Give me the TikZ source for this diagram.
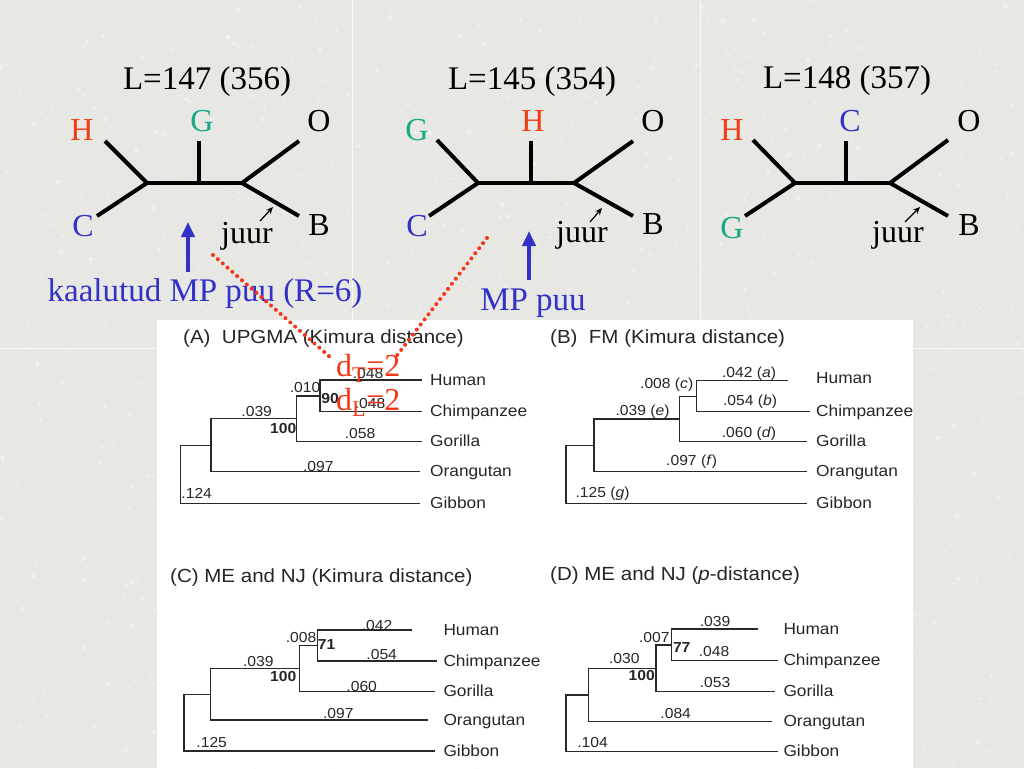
\documentclass[tikz,border=0pt]{standalone}
\usepackage{fontspec}
\setmainfont{Liberation Serif}
\newfontfamily\arial[FakeStretch=1.08]{Liberation Sans}
\usetikzlibrary{arrows.meta}
\definecolor{bg}{RGB}{231,231,228}
\definecolor{hred}{RGB}{240,60,20}
\definecolor{ggreen}{RGB}{20,170,130}
\definecolor{cblue}{RGB}{50,50,200}
\definecolor{dred}{RGB}{245,55,25}
\definecolor{pline}{RGB}{40,40,40}
\begin{document}
\begin{tikzpicture}[x=1pt,y=-1pt,
  big/.style={font=\fontsize{33}{36}\selectfont, inner sep=0pt, anchor=base},
  lbl/.style={font=\fontsize{32}{36}\selectfont, inner sep=0pt, anchor=base},
  tb/.style={line width=4pt, line join=round},
  barrow/.style={draw=cblue, line width=4pt, -{Triangle[width=13pt,length=15pt]}},
  jarrow/.style={line width=1.2pt, -{Stealth[length=7pt,width=6pt]}},
  reddot/.style={draw=dred, line width=4pt, line cap=round, dash pattern=on 0.01pt off 6.4pt},
  pl/.style={draw=pline, line width=1.3pt},
  ptitle/.style={font=\arial\fontsize{19}{21}\selectfont, anchor=west, inner sep=0pt, text=black!85},
  leaf/.style={font=\arial\fontsize{16}{18}\selectfont, anchor=base west, inner sep=0pt, text=black!85},
  num/.style={font=\arial\fontsize{14.5}{16}\selectfont, inner sep=0pt, text=black!85},
  bnum/.style={font=\arial\bfseries\fontsize{14.5}{16}\selectfont, inner sep=0pt, text=black!85}
]
\useasboundingbox (0,0) rectangle (1024,768);
\fill[bg] (0,0) rectangle (1024,768);
\pgfmathsetseed{7}
\foreach \i in {1,...,2500}{
  \pgfmathsetmacro{\px}{rnd*1024}
  \pgfmathsetmacro{\py}{rnd*768}
  \pgfmathsetmacro{\pr}{0.8+rnd*1.4}
  \pgfmathsetmacro{\pc}{rnd>0.5 ? 100 : 78}
  \fill[black!30!white, opacity=0.35, fill=white!\pc!black!25] (\px,\py) circle (\pr);
}
\draw[white!70!bg, line width=1pt] (352,0) -- (352,768) (700,0) -- (700,768) (0,348) -- (1024,348);
\fill[white] (157,320) rectangle (913,768);

% ---------------- top tree 1
\node[big] (a-title) at (207,89.3) {L=147 (356)};
\coordinate (a-n1) at (147,183); \coordinate (a-n2) at (199,183);
\coordinate (a-top) at (199,141); \coordinate (a-n3) at (242,183);
\coordinate (a-tl) at (105,141); \coordinate (a-bl) at (97,216);
\coordinate (a-tr) at (299,141); \coordinate (a-br) at (299,216);
\draw[tb] (a-tl) -- (a-n1) -- (a-bl);
\draw[tb] (a-n1) -- (a-n3);
\draw[tb] (a-top) -- (a-n2);
\draw[tb] (a-tr) -- (a-n3) -- (a-br);
\node[lbl, text=hred] (a-H) at (82,140) {H};
\node[lbl, text=ggreen] (a-G) at (202,131) {G};
\node[lbl] (a-O) at (319,131) {O};
\node[lbl, text=cblue] (a-C) at (83,236.7) {C};
\node[lbl] (a-B) at (319,235) {B};
\node[lbl] (a-juur) at (247,243.3) {juur};
\coordinate (a-js) at (260,221); \coordinate (a-je) at (273,207);
\draw[jarrow] (a-js) -- (a-je);
\node[big, text=cblue] (kaal) at (205,301.7) {kaalutud MP puu (R=6)};
\coordinate (a-as) at (188,272); \coordinate (a-ae) at (188,222);
\draw[barrow] (a-as) -- (a-ae);

% ---------------- top tree 2
\node[big] (b-title) at (532,89.3) {L=145 (354)};
\coordinate (b-n1) at (478,183); \coordinate (b-n2) at (531,183);
\coordinate (b-top) at (531,141); \coordinate (b-n3) at (574,183);
\coordinate (b-tl) at (437,140); \coordinate (b-bl) at (429,216);
\coordinate (b-tr) at (633,141); \coordinate (b-br) at (633,216);
\draw[tb] (b-tl) -- (b-n1) -- (b-bl);
\draw[tb] (b-n1) -- (b-n3);
\draw[tb] (b-top) -- (b-n2);
\draw[tb] (b-tr) -- (b-n3) -- (b-br);
\node[lbl, text=ggreen] (b-G) at (417,140) {G};
\node[lbl, text=hred] (b-H) at (533,131.7) {H};
\node[lbl] (b-O) at (653,131.7) {O};
\node[lbl, text=cblue] (b-C) at (417,236.7) {C};
\node[lbl] (b-B) at (653,234) {B};
\node[lbl] (b-juur) at (582,242.7) {juur};
\coordinate (b-js) at (590,222); \coordinate (b-je) at (602,208);
\draw[jarrow] (b-js) -- (b-je);
\node[big, text=cblue] (mp) at (533,310) {MP puu};
\coordinate (b-as) at (529,280); \coordinate (b-ae) at (529,231);
\draw[barrow] (b-as) -- (b-ae);

% ---------------- top tree 3
\node[big] (c-title) at (847,88.3) {L=148 (357)};
\coordinate (c-n1) at (795,183); \coordinate (c-n2) at (846,183);
\coordinate (c-top) at (846,141); \coordinate (c-n3) at (890,183);
\coordinate (c-tl) at (753,140); \coordinate (c-bl) at (745,216);
\coordinate (c-tr) at (948,140); \coordinate (c-br) at (948,216);
\draw[tb] (c-tl) -- (c-n1) -- (c-bl);
\draw[tb] (c-n1) -- (c-n3);
\draw[tb] (c-top) -- (c-n2);
\draw[tb] (c-tr) -- (c-n3) -- (c-br);
\node[lbl, text=hred] (c-H) at (732,140.7) {H};
\node[lbl, text=cblue] (c-C) at (850,131.7) {C};
\node[lbl] (c-O) at (969,131.7) {O};
\node[lbl, text=ggreen] (c-G) at (732,238) {G};
\node[lbl] (c-B) at (969,235) {B};
\node[lbl] (c-juur) at (898,242.7) {juur};
\coordinate (c-js) at (905,222); \coordinate (c-je) at (920,207);
\draw[jarrow] (c-js) -- (c-je);

% ---------------- panel A
\node[ptitle] (A-title) at (183,339) {(A)~~UPGMA (Kimura distance)};
\coordinate (AH) at (422,380); \coordinate (AC) at (422,411.7);
\coordinate (AG) at (422,441.7); \coordinate (AO) at (420,471.7);
\coordinate (AB) at (420,503.3);
\coordinate (A4) at (320,395.85); \coordinate (A3) at (296.7,418.8);
\coordinate (A2) at (211,445.2); \coordinate (A1) at (180.7,474.3);
\draw[pl] (AH) -| (A4) |- (AC);
\draw[pl] (A4) -| (A3) |- (AG);
\draw[pl] (A3) -| (A2) |- (AO);
\draw[pl] (A2) -| (A1) |- (AB);
\node[leaf] at (430,385) {Human};
\node[leaf] at (430,416.7) {Chimpanzee};
\node[leaf] at (430,446.7) {Gorilla};
\node[leaf] at (430,476.7) {Orangutan};
\node[leaf] at (430,508.3) {Gibbon};
\node[num] at (305,388) {.010};
\node[bnum] at (330,398.3) {90};
\node[num] at (368,373.3) {.048};
\node[num] at (370,403.3) {.048};
\node[num] at (360,433.3) {.058};
\node[num] at (256.7,411.7) {.039};
\node[bnum] at (283.3,428.3) {100};
\node[num] at (318.3,466.7) {.097};
\node[num] at (196.7,493.3) {.124};

% ---------------- panel B
\node[ptitle] (B-title) at (550,339) {(B)~~FM (Kimura distance)};
\coordinate (BH) at (788.3,380.7); \coordinate (BC) at (810,411.7);
\coordinate (BG) at (806.7,441.7); \coordinate (BO) at (806.7,471.7);
\coordinate (BB) at (806.7,503.3);
\coordinate (B4) at (696.7,396.2); \coordinate (B3) at (679.3,419);
\coordinate (B2) at (594,445.3); \coordinate (B1) at (566,474.3);
\draw[pl] (BH) -| (B4) |- (BC);
\draw[pl] (B4) -| (B3) |- (BG);
\draw[pl] (B3) -| (B2) |- (BO);
\draw[pl] (B2) -| (B1) |- (BB);
\node[leaf] at (816,383.7) {Human};
\node[leaf] at (816,416.7) {Chimpanzee};
\node[leaf] at (816,446.7) {Gorilla};
\node[leaf] at (816,476.7) {Orangutan};
\node[leaf] at (816,508.3) {Gibbon};
\node[num] at (749,373.3) {.042 (\textit{a})};
\node[num] at (666.7,385) {.008 (\textit{c})};
\node[num] at (750,402) {.054 (\textit{b})};
\node[num] at (642.5,411.7) {.039 (\textit{e})};
\node[num] at (749,433.3) {.060 (\textit{d})};
\node[num] at (691.7,461.7) {.097 (\textit{f})};
\node[num] at (602.5,493.3) {.125 (\textit{g})};

% ---------------- panel C
\node[ptitle] (C-title) at (170,578) {(C) ME and NJ (Kimura distance)};
\coordinate (CH) at (411.7,630); \coordinate (CC) at (436.7,661);
\coordinate (CG) at (435,691.7); \coordinate (CO) at (428.3,720);
\coordinate (CB) at (435,751);
\coordinate (C4) at (317.3,645.5); \coordinate (C3) at (299.3,668.6);
\coordinate (C2) at (210.7,694.3); \coordinate (C1) at (184,722.7);
\draw[pl] (CH) -| (C4) |- (CC);
\draw[pl] (C4) -| (C3) |- (CG);
\draw[pl] (C3) -| (C2) |- (CO);
\draw[pl] (C2) -| (C1) |- (CB);
\node[leaf] at (443.3,635) {Human};
\node[leaf] at (443.3,666) {Chimpanzee};
\node[leaf] at (443.3,696.7) {Gorilla};
\node[leaf] at (443.3,725) {Orangutan};
\node[leaf] at (443.3,756) {Gibbon};
\node[num] at (377,625) {.042};
\node[num] at (301,637.3) {.008};
\node[bnum] at (326.7,645) {71};
\node[num] at (381.7,654.3) {.054};
\node[num] at (258.3,661) {.039};
\node[bnum] at (283.3,676.7) {100};
\node[num] at (361.7,686) {.060};
\node[num] at (338.3,713.3) {.097};
\node[num] at (211.7,742) {.125};

% ---------------- panel D
\node[ptitle] (D-title) at (550,576) {(D) ME and NJ (\textit{p}-distance)};
\coordinate (DH) at (758.3,629); \coordinate (DC) at (778.3,660.7);
\coordinate (DG) at (775,691.7); \coordinate (DO) at (771.7,721.7);
\coordinate (DB) at (778.3,751.7);
\coordinate (D4) at (671.7,644.85); \coordinate (D3) at (656,668.3);
\coordinate (D2) at (588.3,695); \coordinate (D1) at (566,723.3);
\draw[pl] (DH) -| (D4) |- (DC);
\draw[pl] (D4) -| (D3) |- (DG);
\draw[pl] (D3) -| (D2) |- (DO);
\draw[pl] (D2) -| (D1) |- (DB);
\node[leaf] at (783.3,634) {Human};
\node[leaf] at (783.3,665.7) {Chimpanzee};
\node[leaf] at (783.3,696.7) {Gorilla};
\node[leaf] at (783.3,726.7) {Orangutan};
\node[leaf] at (783.3,756.7) {Gibbon};
\node[num] at (715,621.7) {.039};
\node[num] at (654.3,637.3) {.007};
\node[bnum] at (681.7,647.3) {77};
\node[num] at (714,651.7) {.048};
\node[num] at (624.3,658.3) {.030};
\node[bnum] at (641.7,675) {100};
\node[num] at (715,682.7) {.053};
\node[num] at (675.7,713.3) {.084};
\node[num] at (592.5,742.7) {.104};

% ---------------- red dotted connectors and labels
\coordinate (r1s) at (213,255); \coordinate (r1e) at (330,357);
\coordinate (r2s) at (487,238); \coordinate (r2e) at (395,358);
\draw[reddot] (r1s) -- (r1e);
\draw[reddot] (r2s) -- (r2e);
\node[lbl, anchor=base west, text=dred] (dT) at (336,376.7) {d\textsubscript{T}=2};
\node[lbl, anchor=base west, text=dred] (dL) at (336,410) {d\textsubscript{L}=2};
\end{tikzpicture}
\end{document}
